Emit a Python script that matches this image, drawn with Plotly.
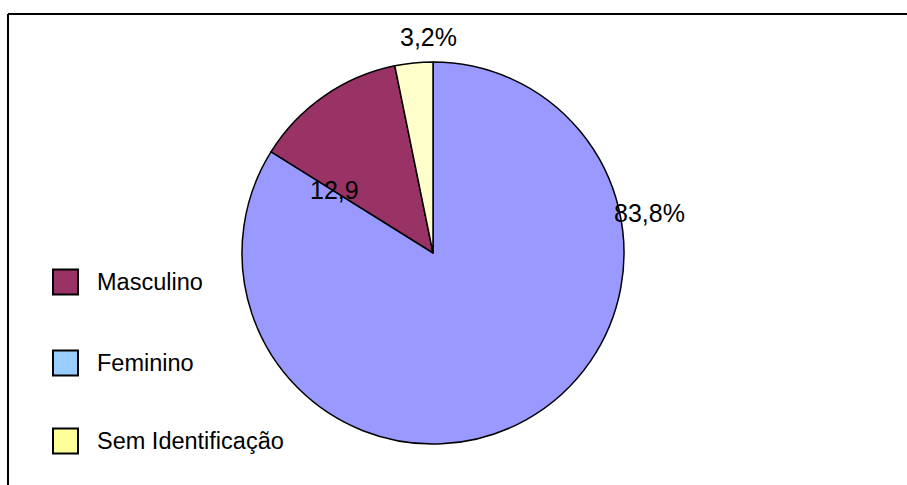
import plotly.graph_objects as go

# Survey respondents by sex (percent)
categories = ["Masculino", "Feminino", "Sem Identificação"]
values = [12.9, 83.8, 3.2]
label_suffix = ["", "%", "%"]

slice_colors = ["#993366", "#9999FF", "#FFFFCC"]
legend_colors = ["#993366", "#99CCFF", "#FFFF99"]

W, H = 907, 485


def px(x):
    return x / W


def py(y):
    return 1 - y / H


total = sum(values)
# counter-clockwise slices; "Sem Identificação" ends at 12 o'clock
rotation = -360 * (values[0] + values[2]) / total

fig = go.Figure(
    go.Pie(
        labels=categories,
        values=values,
        sort=False,
        direction="counterclockwise",
        rotation=rotation,
        marker=dict(colors=slice_colors, line=dict(color="black", width=1.5)),
        textinfo="none",
        hoverinfo="skip",
        showlegend=False,
        domain=dict(x=[px(242), px(624)], y=[py(444), py(62)]),
    )
)

# value labels
label_pos = [(334, 190), (649, 213), (428.5, 37)]
annotations = []
for v, suf, (lx, ly) in zip(values, label_suffix, label_pos):
    annotations.append(
        dict(
            x=px(lx), y=py(ly), xref="paper", yref="paper",
            text=f"{v:.1f}".replace(".", ",") + suf,
            showarrow=False, xanchor="center", yanchor="middle",
            font=dict(family="Liberation Sans, Arial", size=25, color="black"),
        )
    )

# hand-drawn legend
shapes = []
legend_y = [282, 363, 441]
for name, col, cy in zip(categories, legend_colors, legend_y):
    shapes.append(
        dict(
            type="rect", xref="paper", yref="paper",
            x0=px(53), x1=px(78), y0=py(cy + 12.5), y1=py(cy - 12.5),
            fillcolor=col, line=dict(color="black", width=2),
        )
    )
    annotations.append(
        dict(
            x=px(95), y=py(cy), xref="paper", yref="paper",
            text=name, showarrow=False, xanchor="left", yanchor="middle",
            font=dict(family="Liberation Sans, Arial", size=23.5, color="black"),
        )
    )

# chart frame (top and left edges)
shapes.append(dict(type="line", xref="paper", yref="paper",
                   x0=px(8), x1=1, y0=py(14), y1=py(14),
                   line=dict(color="black", width=2)))
shapes.append(dict(type="line", xref="paper", yref="paper",
                   x0=px(8), x1=px(8), y0=py(14), y1=0,
                   line=dict(color="black", width=2)))

fig.update_layout(
    width=W, height=H,
    margin=dict(l=0, r=0, t=0, b=0),
    paper_bgcolor="white", plot_bgcolor="white",
    annotations=annotations, shapes=shapes,
)

fig.write_html("out.html")
